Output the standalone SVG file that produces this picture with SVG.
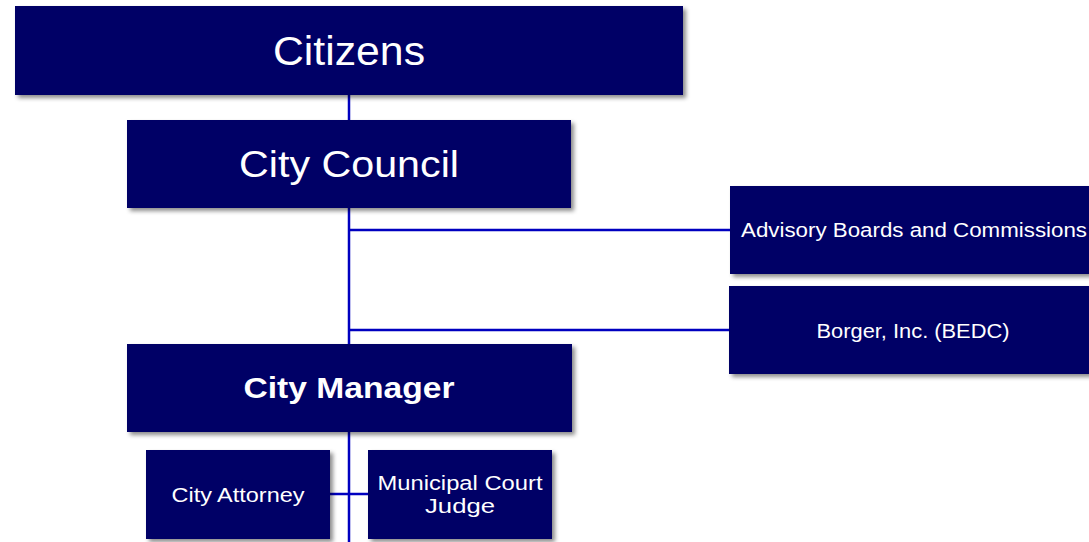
<svg xmlns="http://www.w3.org/2000/svg" width="1089" height="542" viewBox="0 0 1089 542">
<style>
.box{fill:#000066;filter:url(#sh)}
.t{fill:#ffffff;font-family:"Liberation Sans","DejaVu Sans",sans-serif;text-anchor:middle}
.c{stroke:#0000c0;stroke-width:2.5;fill:none}
</style>
<defs>
<filter id="sh" x="-5%" y="-10%" width="115%" height="130%">
<feDropShadow dx="3" dy="3" stdDeviation="2" flood-color="#000000" flood-opacity="0.45"/>
</filter>
</defs>
<rect width="1089" height="542" fill="#ffffff"/>
<g id="connectors">
<line class="c" x1="349" y1="95" x2="349" y2="542"/>
<line class="c" x1="349" y1="230" x2="731" y2="230"/>
<line class="c" x1="349" y1="330" x2="730" y2="330"/>
<line class="c" x1="330" y1="494" x2="368" y2="494"/>
</g>
<g id="citizens">
<rect class="box" x="15" y="6" width="668" height="89"/>
<text class="t" x="349" y="65" font-size="40" textLength="152" lengthAdjust="spacingAndGlyphs">Citizens</text>
</g>
<g id="city-council">
<rect class="box" x="127" y="120" width="444" height="88"/>
<text class="t" x="349" y="177" font-size="37" textLength="220" lengthAdjust="spacingAndGlyphs">City Council</text>
</g>
<g id="advisory">
<rect class="box" x="730" y="186" width="362" height="88"/>
<text class="t" x="914" y="237" font-size="20" textLength="346" lengthAdjust="spacingAndGlyphs">Advisory Boards and Commissions</text>
</g>
<g id="borger">
<rect class="box" x="729" y="286" width="362" height="88"/>
<text class="t" x="913" y="338" font-size="20" textLength="193" lengthAdjust="spacingAndGlyphs">Borger, Inc. (BEDC)</text>
</g>
<g id="city-manager">
<rect class="box" x="127" y="344" width="445" height="88"/>
<text class="t" x="349" y="398" font-size="29" font-weight="bold" textLength="211" lengthAdjust="spacingAndGlyphs">City Manager</text>
</g>
<g id="city-attorney">
<rect class="box" x="146" y="450" width="184" height="89"/>
<text class="t" x="238" y="502" font-size="20" textLength="133" lengthAdjust="spacingAndGlyphs">City Attorney</text>
</g>
<g id="municipal-court-judge">
<rect class="box" x="368" y="450" width="184" height="89"/>
<text class="t" x="460" y="490" font-size="20" textLength="165" lengthAdjust="spacingAndGlyphs">Municipal Court</text>
<text class="t" x="460" y="513" font-size="20" textLength="70" lengthAdjust="spacingAndGlyphs">Judge</text>
</g>
</svg>
